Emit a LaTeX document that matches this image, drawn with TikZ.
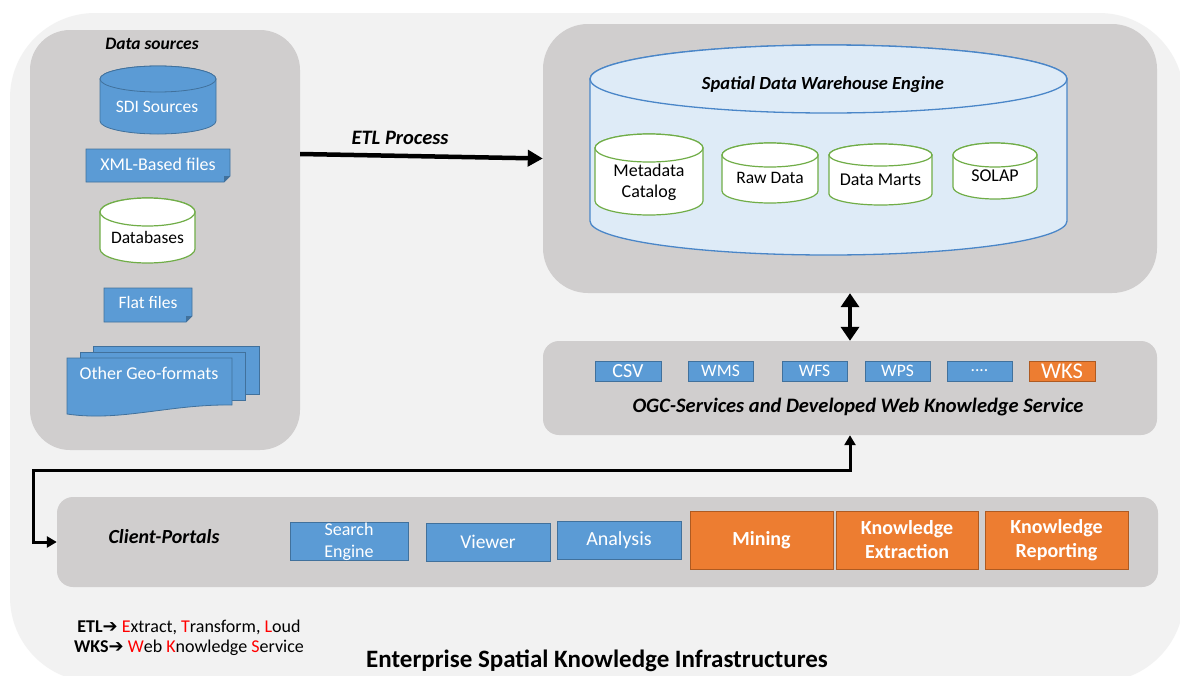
\documentclass[tikz,border=0pt]{standalone}
\usepackage{fontspec}
\setmainfont{Carlito}
\newfontfamily\dejavu{DejaVu Sans}
\usetikzlibrary{arrows.meta,calc}
\definecolor{bgc}{HTML}{F2F2F2}
\definecolor{panelc}{HTML}{D0CECE}
\definecolor{bluef}{HTML}{5B9BD5}
\definecolor{blued}{HTML}{41719C}
\definecolor{orangef}{HTML}{ED7D31}
\definecolor{oranged}{HTML}{AE5A21}
\definecolor{greenb}{HTML}{70AD47}
\definecolor{lblue}{HTML}{DEEBF7}
\definecolor{cylb}{HTML}{4A86C8}
\definecolor{legred}{HTML}{FF0000}
\tikzset{
  panel/.style={fill=panelc, draw=none, inner sep=0pt},
  bluebox/.style={fill=bluef, draw=blued, line width=0.8pt, text=white, inner sep=0pt, align=center},
  orangebox/.style={fill=orangef, draw=oranged, line width=0.8pt, text=white, inner sep=0pt, align=center},
  ttl/.style={inner sep=0pt, font=\fontsize{17.5}{20}\selectfont\bfseries\itshape},
  lbl/.style={inner sep=0pt, align=center},
  sdicyl/.style={fill=bluef, draw=blued, line width=0.8pt},
  wcyl/.style={fill=white, draw=greenb, line width=1.2pt},
  bigcyl/.style={fill=lblue, draw=cylb, line width=1.3pt},
  docfill/.style={fill=bluef, draw=blued, line width=0.8pt},
}
\newcommand{\dbcyl}[6]{%
  \pgfmathsetmacro\cxa{(#2+#3)/2}%
  \pgfmathsetmacro\rxa{(#3-#2)/2}%
  \pgfmathsetmacro\ytc{#4+#6}%
  \pgfmathsetmacro\ybc{#5-#6}%
  \path[#1] (#2,\ytc) -- (#2,\ybc) arc[start angle=180,end angle=360,x radius=\rxa pt,y radius=#6pt] -- (#3,\ytc) arc[start angle=0,end angle=180,x radius=\rxa pt,y radius=#6pt] -- cycle;
  \path[#1] (\cxa,\ytc) ellipse[x radius=\rxa pt,y radius=#6pt];
}
\newcommand{\docbox}[4]{%
  \path[docfill] (#1,#2) -- (#3,#2) -- (#3,#4-6) -- (#3-6,#4) -- (#1,#4) -- cycle;
  \fill[blued] (#3,#4-6) -- (#3-6,#4-6) -- (#3-6,#4) -- cycle;
}
\begin{document}
\begin{tikzpicture}[x=1pt,y=-1pt]
\useasboundingbox (0,0) rectangle (1180,675);
\fill[white] (0,0) rectangle (1180,675);
\fill[bgc, rounded corners=85pt] (10,13) rectangle (1184,682);

% panels
\node[panel, rounded corners=40pt, minimum width=270pt, minimum height=420pt] (ds) at (165,240) {};
\node[panel, rounded corners=45pt, minimum width=614pt, minimum height=269pt] (sdw) at (850,158.5) {};
\node[panel, rounded corners=16pt, minimum width=614pt, minimum height=94pt] (ogc) at (850,388) {};
\node[panel, rounded corners=16pt, minimum width=1101pt, minimum height=90pt] (cp) at (607.5,542) {};

% data sources
\node[ttl] (dstitle) at (152,44) {Data sources};
\dbcyl{sdicyl}{100}{216}{66}{134}{13}
\node[lbl, text=white, font=\fontsize{17.5}{20}\selectfont] (sdi) at (157,107) {SDI Sources};
\docbox{86}{149}{230}{182}
\node[lbl, text=white, font=\fontsize{18}{20}\selectfont] (xml) at (158,164) {XML-Based files};
\dbcyl{wcyl}{100}{195}{198}{263}{14}
\node[lbl, font=\fontsize{17.5}{20}\selectfont] (dbs) at (147.5,237) {Databases};
\docbox{104}{288}{192}{322}
\node[lbl, text=white, font=\fontsize{17.5}{20}\selectfont] (flat) at (148,302) {Flat files};
\path[docfill] (93,346) rectangle (259,394);
\path[docfill] (80,352) rectangle (245,400);
\path[docfill] (67,358) -- (232,358) -- (232,405) .. controls (170,404) and (120,422) .. (67,414) -- cycle;
\node[lbl, text=white, font=\fontsize{18}{20}\selectfont] (geo) at (149,373) {Other Geo-formats};

% warehouse
\dbcyl{bigcyl}{590}{1067}{45}{255}{34}
\node[ttl, font=\fontsize{18.5}{21}\selectfont\bfseries\itshape] (sdwt) at (823,85) {Spatial Data Warehouse Engine};
\dbcyl{wcyl}{595}{703}{134}{215}{14}
\node[lbl, font=\fontsize{18}{21}\selectfont] (meta) at (649,182) {Metadata\\Catalog};
\dbcyl{wcyl}{722}{818}{143}{203}{12}
\node[lbl, font=\fontsize{17.5}{20}\selectfont] (raw) at (770,178) {Raw Data};
\dbcyl{wcyl}{829}{932}{144}{205}{11}
\node[lbl, font=\fontsize{18}{20}\selectfont] (marts) at (880.5,180) {Data Marts};
\dbcyl{wcyl}{953}{1037}{143}{199}{12}
\node[lbl, font=\fontsize{18}{20}\selectfont] (solap) at (995,176) {SOLAP};

% ETL arrow
\draw[line width=4.5pt, -{Triangle[length=15pt,width=16pt]}] ([yshift=86pt]ds.east) -- (sdw.west);
\node[ttl, font=\fontsize{20.5}{23}\selectfont\bfseries\itshape] (etl) at (400,138) {ETL Process};

% OGC services
\node[bluebox, minimum width=66pt, minimum height=20pt, font=\fontsize{20}{20}\selectfont] (csv) at (628,371) {CSV};
\node[bluebox, minimum width=65pt, minimum height=20pt, font=\fontsize{17.5}{18}\selectfont] (wms) at (720.5,371) {WMS};
\node[bluebox, minimum width=65pt, minimum height=20pt, font=\fontsize{17.5}{18}\selectfont] (wfs) at (814.5,371) {WFS};
\node[bluebox, minimum width=65pt, minimum height=20pt, font=\fontsize{17.5}{18}\selectfont] (wps) at (897.5,371) {WPS};
\node[bluebox, minimum width=65pt, minimum height=20pt, font=\fontsize{17.5}{18}\selectfont] (dots) at (979.5,371) {....};
\node[orangebox, minimum width=66pt, minimum height=20pt, font=\fontsize{22.5}{20}\selectfont] (wks) at (1062,371) {WKS};
\node[ttl, font=\fontsize{20.5}{23}\selectfont\bfseries\itshape] (ogct) at (858,407) {OGC-Services and Developed Web Knowledge Service};

\draw[line width=4.5pt, {Triangle[length=14pt,width=18pt]}-{Triangle[length=14pt,width=18pt]}] (sdw.south) -- (ogc.north);

% client portals
\node[ttl, font=\fontsize{20}{23}\selectfont\bfseries\itshape] (cpt) at (164,537) {Client-Portals};
\node[bluebox, minimum width=118pt, minimum height=37pt, font=\fontsize{18}{22}\selectfont] (search) at (349,541.5) {Search\\Engine};
\node[bluebox, minimum width=124pt, minimum height=38pt, font=\fontsize{19.5}{20}\selectfont] (viewer) at (488,542) {Viewer};
\node[bluebox, minimum width=124pt, minimum height=38pt, font=\fontsize{20}{20}\selectfont] (analysis) at (619,540) {Analysis};
\node[orangebox, minimum width=143pt, minimum height=58pt, font=\fontsize{20}{24}\selectfont\bfseries] (mining) at (761.5,540) {Mining};
\node[orangebox, minimum width=142pt, minimum height=58pt, font=\fontsize{20}{24}\selectfont\bfseries] (kext) at (907,540) {Knowledge\\Extraction};
\node[orangebox, minimum width=143pt, minimum height=58pt, font=\fontsize{20}{24}\selectfont\bfseries] (krep) at (1056.5,540) {Knowledge\\Reporting};

\coordinate (bend) at (33,470);
\draw[line width=3pt, {Triangle[length=10pt,width=11pt]}-{Triangle[length=10pt,width=11pt]}] (ogc.south) |- (bend) |- (cp.west);

% legend
\node[lbl, font=\fontsize{18}{20}\selectfont] (leg1) at (189,627) {\textbf{ETL}{\dejavu\bfseries ➔} \textcolor{legred}{E}xtract, \textcolor{legred}{T}ransform, \textcolor{legred}{L}oud};
\node[lbl, font=\fontsize{18}{20}\selectfont] (leg2) at (189,648) {\textbf{WKS}{\dejavu\bfseries ➔} \textcolor{legred}{W}eb \textcolor{legred}{K}nowledge \textcolor{legred}{S}ervice};

\node[lbl, font=\fontsize{25}{28}\selectfont\bfseries] (title) at (597,661) {Enterprise Spatial Knowledge Infrastructures};
\end{tikzpicture}
\end{document}
